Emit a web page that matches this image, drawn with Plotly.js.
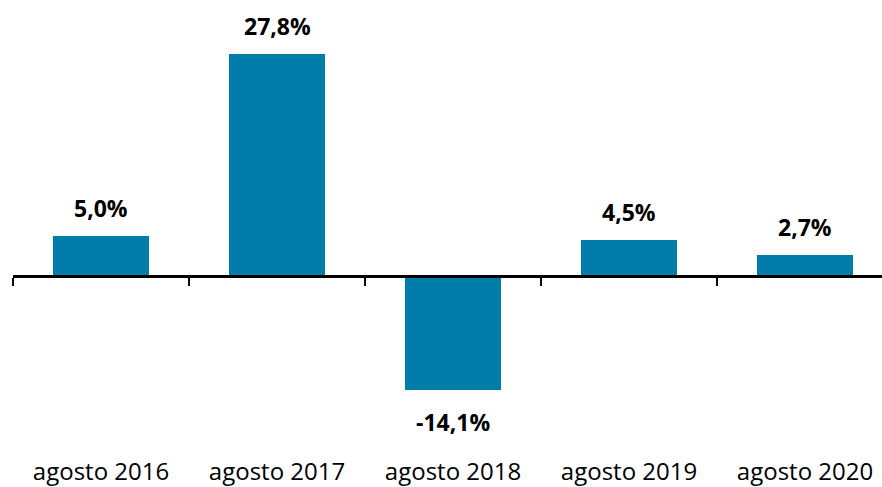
<!DOCTYPE html>
<html>
<head>
<meta charset="utf-8">
<script src="https://cdn.plot.ly/plotly-3.0.1.min.js"></script>
<style>html,body{margin:0;padding:0;background:#fff;}#chart{width:882px;height:487px;}</style>
</head>
<body>
<div id="chart"></div>
<script>
const categories = ["agosto 2016", "agosto 2017", "agosto 2018", "agosto 2019", "agosto 2020"];
const values = [5.0, 27.8, -14.1, 4.5, 2.7];
const valueLabels = ["5,0%", "27,8%", "-14,1%", "4,5%", "2,7%"];

const barColor = "#007DA8";
const fontFam = "'Open Sans', 'Noto Sans', sans-serif";

const idx = categories.map((c, i) => i);

const bars = {
  type: "bar",
  x: idx,
  y: values,
  marker: {color: barColor, line: {width: 0}},
  width: 0.55,
  hoverinfo: "skip",
  xaxis: "x",
  yaxis: "y"
};
const axisHelper = {
  type: "scatter",
  x: idx,
  y: values.map(() => 0),
  mode: "markers",
  marker: {opacity: 0},
  hoverinfo: "skip",
  xaxis: "x2",
  yaxis: "y",
  showlegend: false
};

const annotations = values.map((v, i) => ({
  x: i, y: v, xref: "x", yref: "y",
  text: "<b>" + valueLabels[i] + "</b>",
  showarrow: false,
  yanchor: v >= 0 ? "bottom" : "top",
  yshift: v >= 0 ? 10 : -14,
  font: {family: fontFam, size: 23, color: "#000"}
}));

const yMin = -22.26, yMax = 34.48;
const xRange = [-0.5, 4.4375];

const layout = {
  width: 882, height: 487,
  margin: {l: 13, r: 0, t: 0, b: 32},
  paper_bgcolor: "#fff", plot_bgcolor: "#fff",
  showlegend: false,
  bargap: 0,
  xaxis: {
    range: xRange,
    tickmode: "array",
    tickvals: idx,
    ticktext: categories,
    ticks: "",
    showline: false,
    showgrid: false,
    zeroline: false,
    tickfont: {family: fontFam, size: 24, color: "#000"},
    fixedrange: true
  },
  xaxis2: {
    overlaying: "x",
    anchor: "free",
    position: (0 - yMin) / (yMax - yMin),
    side: "bottom",
    range: xRange,
    tickmode: "array",
    tickvals: [-0.5, 0.5, 1.5, 2.5, 3.5, 4.5],
    ticks: "outside",
    ticklen: 8,
    tickwidth: 2.5,
    tickcolor: "#000",
    showticklabels: false,
    showline: true,
    linecolor: "#000",
    linewidth: 2.5,
    showgrid: false,
    zeroline: false,
    fixedrange: true
  },
  yaxis: {
    range: [yMin, yMax],
    visible: false,
    showgrid: false,
    zeroline: false,
    fixedrange: true
  },
  annotations: annotations
};

Plotly.newPlot("chart", [bars, axisHelper], layout, {displayModeBar: false, staticPlot: true});
</script>
</body>
</html>
